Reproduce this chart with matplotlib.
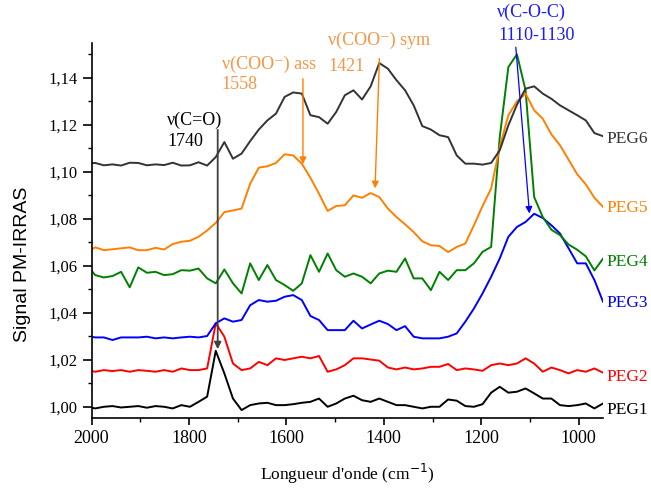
import numpy as np
import matplotlib
matplotlib.use("Agg")
import matplotlib.pyplot as plt
from matplotlib.ticker import MultipleLocator, FuncFormatter

# wavenumber grid (cm-1), reversed axis
wn = np.linspace(2010, 950, 61)

peg1 = [1.000, 0.9993, 1.000, 1.0003, 0.9997, 1.000, 1.0003, 0.9996, 1.0003, 1.000,
        0.9993, 1.0007, 1.000, 1.0021, 1.0043, 1.0238, 1.0142, 1.0035, 0.9986, 1.0007,
        1.0014, 1.0017, 1.0007, 1.0007, 1.0011, 1.0017, 1.0021, 1.0035, 1.000, 1.0014,
        1.0035, 1.0047, 1.0028, 1.0021, 1.0035, 1.0021, 1.0007, 1.0007, 1.000, 0.9993,
        1.000, 1.000, 1.0031, 1.0026, 1.0003, 1.000, 1.0011, 1.006, 1.0085, 1.006,
        1.0064, 1.0078, 1.0057, 1.0035, 1.0035, 1.0007, 1.0003, 1.0007, 1.0014, 0.9993,
        1.0014]
peg2 = [1.0156, 1.0149, 1.0156, 1.0152, 1.0156, 1.0149, 1.0156, 1.0153, 1.0149, 1.0156,
        1.0149, 1.0163, 1.0156, 1.0156, 1.0163, 1.0355, 1.0298, 1.0184, 1.0156, 1.0163,
        1.0191, 1.0177, 1.0206, 1.0199, 1.0206, 1.0213, 1.0206, 1.0216, 1.0149, 1.0159,
        1.0177, 1.0206, 1.0206, 1.0201, 1.0196, 1.0167, 1.0159, 1.0167, 1.0159, 1.0163,
        1.017, 1.017, 1.0182, 1.0156, 1.0163, 1.0159, 1.0153, 1.0177, 1.0184, 1.0177,
        1.0184, 1.0206, 1.0184, 1.0149, 1.0167, 1.0156, 1.0142, 1.0156, 1.0149, 1.0163,
        1.0145]
peg3 = [1.0301, 1.0295, 1.0295, 1.0284, 1.0295, 1.0295, 1.0295, 1.0298, 1.0291, 1.0295,
        1.0291, 1.0295, 1.0298, 1.0295, 1.0301, 1.0355, 1.0376, 1.0362, 1.0369, 1.0432,
        1.0454, 1.0447, 1.0451, 1.0468, 1.0475, 1.0454, 1.0386, 1.0369, 1.0326, 1.0326,
        1.0326, 1.0366, 1.0333, 1.035, 1.0366, 1.0352, 1.0326, 1.0343, 1.0298, 1.0291,
        1.0291, 1.0291, 1.0298, 1.0312, 1.0362, 1.0418, 1.0482, 1.0553, 1.0631, 1.0723,
        1.0765, 1.0786, 1.0821, 1.0803, 1.0772, 1.0737, 1.0674, 1.061, 1.061, 1.0539,
        1.0447]
peg4 = [1.0603, 1.056, 1.055, 1.0556, 1.0574, 1.0508, 1.0593, 1.057, 1.0574, 1.056,
        1.0564, 1.0581, 1.0579, 1.0588, 1.0546, 1.0525, 1.0584, 1.0525, 1.0482, 1.061,
        1.0539, 1.0603, 1.0539, 1.0518, 1.0493, 1.0525, 1.0645, 1.0574, 1.0652, 1.0581,
        1.0553, 1.0567, 1.0553, 1.0525, 1.0567, 1.0579, 1.0574, 1.0631, 1.0546, 1.0546,
        1.0496, 1.0574, 1.0539, 1.0581, 1.0581, 1.061, 1.0659, 1.068, 1.1147, 1.1445,
        1.1499, 1.1346, 1.0892, 1.0807, 1.0753, 1.073, 1.069, 1.0668, 1.064, 1.058,
        1.063]
peg5 = [1.0659, 1.0678, 1.0666, 1.067, 1.0674, 1.0678, 1.0666, 1.0666, 1.0676, 1.0669,
        1.0692, 1.0702, 1.0706, 1.0723, 1.075, 1.0782, 1.0828, 1.0835, 1.0843, 1.0949,
        1.1017, 1.1023, 1.1037, 1.1074, 1.1069, 1.1034, 1.0974, 1.0906, 1.0833, 1.0854,
        1.0857, 1.0899, 1.0889, 1.0909, 1.0892, 1.0843, 1.0807, 1.0776, 1.0743, 1.0704,
        1.0687, 1.0684, 1.0658, 1.068, 1.0694, 1.0772, 1.0854, 1.0928, 1.1105, 1.124,
        1.1299, 1.1332, 1.1261, 1.1225, 1.1159, 1.1112, 1.1051, 1.0989, 1.0946, 1.0889,
        1.085]
peg6 = [1.1034, 1.1037, 1.1027, 1.1031, 1.1026, 1.1038, 1.1037, 1.1027, 1.1031, 1.1028,
        1.1038, 1.1026, 1.1027, 1.104, 1.1026, 1.1062, 1.1126, 1.1055, 1.1077, 1.113,
        1.1179, 1.1218, 1.1247, 1.1318, 1.1337, 1.1332, 1.124, 1.1232, 1.1204, 1.1254,
        1.1325, 1.1346, 1.1307, 1.1363, 1.1462, 1.1438, 1.1389, 1.1346, 1.1282, 1.1194,
        1.1179, 1.1155, 1.1147, 1.1069, 1.1034, 1.1034, 1.103, 1.1037, 1.1091, 1.1197,
        1.1285, 1.1353, 1.1363, 1.1332, 1.131, 1.1282, 1.1261, 1.124, 1.1218, 1.1164,
        1.1151]

series = [peg1, peg2, peg3, peg4, peg5, peg6]
noms = ['PEG1', 'PEG2', 'PEG3', 'PEG4', 'PEG5', 'PEG6']
couleurs = ['#000000', '#ff0000', '#0000ff', '#008000', '#ff8000', '#333333']
y_noms = [0.9987, 1.0127, 1.0441, 1.0615, 1.0845, 1.1138]

serif = ['Liberation Serif', 'DejaVu Serif']

fig = plt.figure(figsize=(6.51, 4.92), dpi=100)
ax = fig.add_axes([0.1406, 0.1498, 0.7857, 0.7622])

for y, nom, c in zip(series, noms, couleurs):
    ax.plot(wn, y, color=c, lw=1.4)

for nom, c, yn in zip(noms, couleurs, y_noms):
    ax.text(942, yn, nom, color=c, fontsize=12.5, family=serif,
            va='center', ha='left', clip_on=False)

ax.set_xlim(2000, 950)
ax.set_ylim(0.9951, 1.1546)

ax.xaxis.set_major_locator(MultipleLocator(200))
ax.xaxis.set_minor_locator(MultipleLocator(100))
ax.yaxis.set_major_locator(MultipleLocator(0.02))
ax.yaxis.set_minor_locator(MultipleLocator(0.01))
ax.yaxis.set_major_formatter(FuncFormatter(lambda v, p: f"{v:.2f}".replace('.', ',')))

for s in ['top', 'right']:
    ax.spines[s].set_visible(False)
for s in ['left', 'bottom']:
    ax.spines[s].set_linewidth(1.2)
ax.tick_params(which='major', direction='out', length=5, width=1.2)
ax.tick_params(which='minor', direction='out', length=3, width=1.0)
ax.tick_params(axis='y', which='major', length=6.5)
for lab in ax.get_xticklabels():
    lab.set_family(serif)
    lab.set_fontsize(13)
for lab in ax.get_yticklabels():
    lab.set_family(serif)
    lab.set_fontsize(12)

ax.set_xlabel("Longueur d'onde (cm$^{-1}$)", family=serif, fontsize=12.5)
ax.xaxis.set_label_coords(0.5, -0.115)
ax.set_ylabel("Signal PM-IRRAS", family=['Liberation Sans', 'DejaVu Sans'], fontsize=14)
ax.yaxis.set_label_coords(-0.118, 0.41)

# annotations
fl = dict(fontsize=13, family=serif, ha='left', va='center', clip_on=False)
ax.text(1845, 1.1218, "ν(C=O)", color='black', **fl)
ax.text(1845, 1.1128, "1740", color='black', **fl)
ax.text(1733, 1.1458, "ν(COO⁻) ass", color='#f79646', **fl)
ax.text(1733, 1.1372, "1558", color='#f79646', **fl)
ax.text(1514, 1.1557, "ν(COO⁻) sym", color='#f79646', **fl)
ax.text(1514, 1.1448, "1421", color='#f79646', **fl)
ax.text(1168, 1.1677, "ν(C-O-C)", color='#1a1aff', **fl)
ax.text(1165, 1.1578, "1110-1130", color='#1a1aff', **fl)

fl = dict(arrowstyle='-|>', mutation_scale=10, shrinkA=0, shrinkB=0)
ax.annotate('', xy=(1741, 1.0245), xytext=(1741, 1.1178),
            arrowprops=dict(color='#404040', lw=1.3, **fl), annotation_clip=False)
ax.annotate('', xy=(1566, 1.1032), xytext=(1566, 1.1395),
            arrowprops=dict(color='#ff8000', lw=1.0, **fl), annotation_clip=False)
ax.annotate('', xy=(1418, 1.0929), xytext=(1409, 1.1481),
            arrowprops=dict(color='#ff8000', lw=1.0, **fl), annotation_clip=False)
ax.annotate('', xy=(1101, 1.0822), xytext=(1129, 1.1529),
            arrowprops=dict(color='#0000ff', lw=0.9, **fl), annotation_clip=False)

fig.savefig('out.png', dpi=100)
